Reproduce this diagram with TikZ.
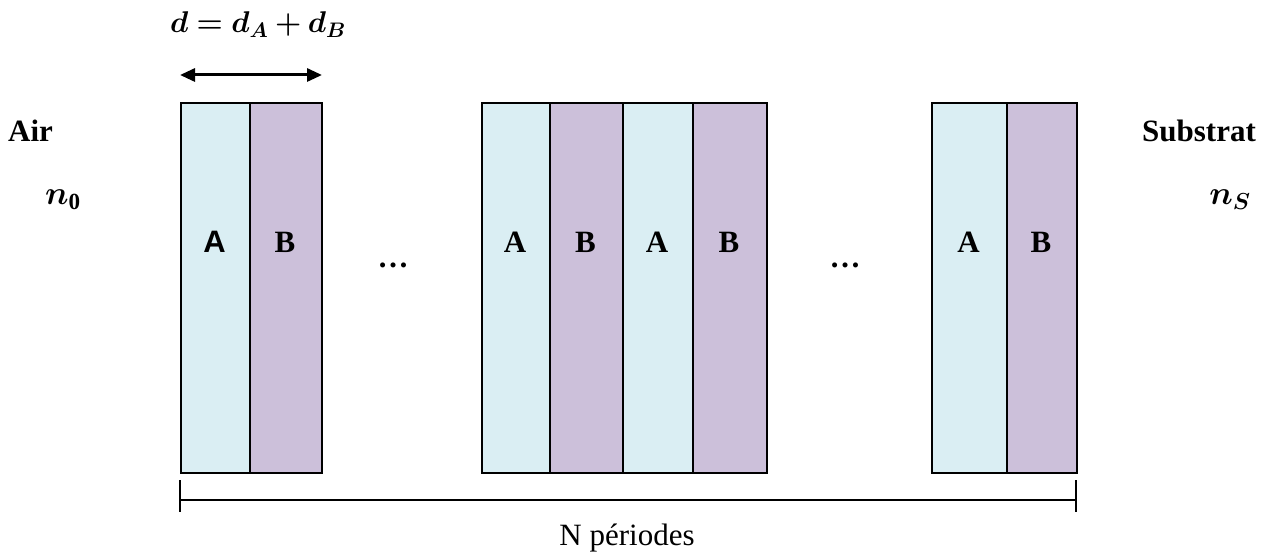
\RequirePackage{fix-cm}
\documentclass[tikz,border=0pt]{standalone}
\usepackage{fontspec}
\usepackage{amsmath,bm}
\setmainfont{Liberation Serif}
\newfontfamily\arialfont{Liberation Sans}
\usetikzlibrary{arrows.meta}
\tikzset{
  layer/.style={draw=black, line width=1.6pt, minimum width=#1, minimum height=370pt,
    inner sep=0pt, anchor=north west},
  layA/.style={layer=#1, fill={rgb,255:red,218;green,238;blue,243}},
  layB/.style={layer=#1, fill={rgb,255:red,204;green,192;blue,218}},
  lbl/.style={font=\fontsize{31}{36}\selectfont\bfseries, anchor=base, inner sep=0pt},
  plain/.style={font=\fontsize{31}{36}\selectfont, anchor=base, inner sep=0pt},
  mathlbl/.style={font=\fontsize{33}{38}\selectfont, anchor=base, inner sep=0pt},
  bar/.style={line width=2pt},
}
\begin{document}
\begin{tikzpicture}[x=1pt, y=-1pt]
  \useasboundingbox (0,0) rectangle (1275,556);

  % first period
  \node[layA=69pt] (a1) at (180,102) {};
  \node[layB=72pt] (b1) at (249,102) {};
  % middle periods
  \node[layA=68pt] (a2) at (481,102) {};
  \node[layB=73pt] (b2) at (549,102) {};
  \node[layA=70pt] (a3) at (622,102) {};
  \node[layB=74pt] (b3) at (692,102) {};
  % last period
  \node[layA=75pt] (a4) at (931,102) {};
  \node[layB=70pt] (b4) at (1006,102) {};

  % layer letters
  \node[lbl, font=\fontsize{31}{36}\selectfont\arialfont\bfseries] (ta1) at (214.5,253) {A};
  \node[lbl] (tb1) at (285,253) {B};
  \node[lbl] (ta2) at (515,253) {A};
  \node[lbl] (tb2) at (585.5,253) {B};
  \node[lbl] (ta3) at (657,253) {A};
  \node[lbl] (tb3) at (729,253) {B};
  \node[lbl] (ta4) at (968.5,253) {A};
  \node[lbl] (tb4) at (1041,253) {B};

  % ellipses between groups
  \node[lbl] (dots1) at (393,268) {\dots};
  \node[lbl] (dots2) at (845,268) {\dots};

  % media on either side
  \node[lbl, anchor=base west] (air) at (8,142) {Air};
  \node[mathlbl] (n0) at (63,205) {$\bm{n}_{\mathbf{0}}$};
  \node[lbl, anchor=base west] (sub) at (1142,142) {Substrat};
  \node[mathlbl] (ns) at (1230,205) {$\bm{n_S}$};

  % period thickness
  \coordinate (dl) at (180,75);
  \coordinate (dr) at (322,75);
  \draw[bar, line width=3pt, {Triangle[length=15pt,width=13pt]}-{Triangle[length=15pt,width=13pt]}] (dl) -- (dr);
  \node[mathlbl, font=\fontsize{30}{36}\selectfont] (dform) at (258,33) {$\bm{d = d_A + d_B}$};

  % total stack extent
  \coordinate (bl) at (180,500);
  \coordinate (br) at (1076,500);
  \draw[bar] (180,480) -- (180,512);
  \draw[bar] (1076,480) -- (1076,512);
  \draw[bar] (bl) -- (br);
  \node[plain] (np) at (627,545) {N périodes};
\end{tikzpicture}
\end{document}
